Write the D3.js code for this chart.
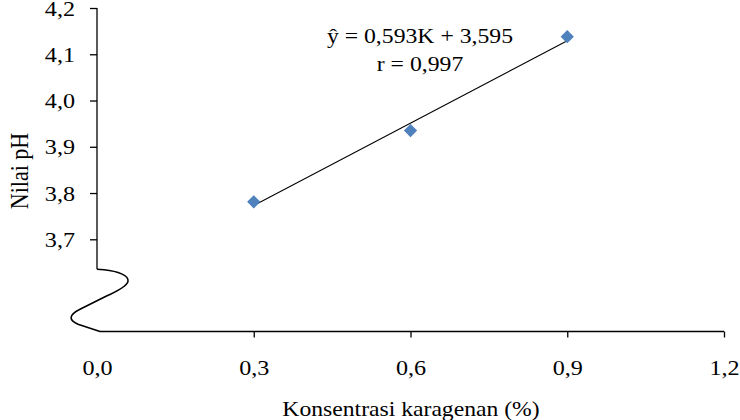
<!DOCTYPE html>
<html>
<head>
<meta charset="utf-8">
<script src="https://cdn.jsdelivr.net/npm/d3@7"></script>
<style>
  html, body { margin: 0; padding: 0; background: #fff; }
  svg text { font-family: "Liberation Serif", "Times New Roman", serif; fill: #000; }
</style>
</head>
<body>
<svg id="chart" width="740" height="420"></svg>
<script>
// ---- data ----
const xTicks = [0, 0.3, 0.6, 0.9, 1.2];
const xTickLabels = ["0,0", "0,3", "0,6", "0,9", "1,2"];
const yTicks = [3.7, 3.8, 3.9, 4.0, 4.1, 4.2];
const yTickLabels = ["3,7", "3,8", "3,9", "4,0", "4,1", "4,2"];
const konsentrasi = [0.3, 0.6, 0.9];
const nilaiPH = [3.781, 3.935, 4.138];
const trendK = [0.3, 0.9];
const trendPH = [3.773, 4.129];
const equationLines = ["ŷ = 0,593K + 3,595", "r = 0,997"];
const xTitle = "Konsentrasi karagenan (%)";
const yTitle = "Nilai pH";

// ---- layout ----
const svg = d3.select("#chart");
const axisY0 = 331.5;      // x-axis position
const breakTop = 269.3;    // where the y-axis line ends above the break

const x = d3.scaleLinear().domain([0, 1.2]).range([97, 724]);
const y = d3.scaleLinear().domain([3.7, 4.2]).range([239.3, 8]);

// horizontally widen text (reference glyphs are wider than tall)
function stretch(sel, sx) {
  sel.each(function () {
    const t = d3.select(this);
    const x0 = +t.attr("x") || 0;
    t.attr("x", 0).attr("transform", `translate(${x0},0) scale(${sx},1)`);
  });
}

// y axis
const yAxisG = svg.append("g")
  .attr("transform", `translate(${x(0)},0)`)
  .call(d3.axisLeft(y).tickValues(yTicks)
    .tickFormat((d, i) => yTickLabels[i])
    .tickSize(7).tickPadding(15));
yAxisG.select(".domain").remove();
yAxisG.selectAll(".tick line").attr("stroke", "#000").attr("stroke-width", 1.3);
yAxisG.selectAll(".tick text").style("font-size", "21px").attr("dy", "0.34em")
  .call(stretch, 1.15);

svg.append("line")
  .attr("x1", x(0)).attr("x2", x(0))
  .attr("y1", y(4.2)).attr("y2", breakTop)
  .attr("stroke", "#000").attr("stroke-width", 1.3);

// axis break squiggle
const bx = x(0);
svg.append("path")
  .attr("d", `M${bx},${breakTop} L${bx + 7},${breakTop + 0.5}
     C${bx + 21},${breakTop + 2} ${bx + 32},${breakTop + 6} ${bx + 31},${breakTop + 12}
     C${bx + 30},${breakTop + 17} ${bx + 20},${breakTop + 22} ${bx + 9},${breakTop + 27}
     L${bx - 17},${breakTop + 40}
     C${bx - 29},${breakTop + 46} ${bx - 28},${breakTop + 51} ${bx - 19},${breakTop + 55}
     L${bx + 3},${axisY0}`)
  .attr("fill", "none").attr("stroke", "#000").attr("stroke-width", 1.6);

// x axis
const xAxisG = svg.append("g")
  .attr("transform", `translate(0,${axisY0})`)
  .call(d3.axisBottom(x).tickValues(xTicks)
    .tickFormat((d, i) => xTickLabels[i])
    .tickSize(6).tickPadding(23));
xAxisG.select(".domain").remove();
xAxisG.selectAll(".tick line").attr("stroke", "#000").attr("stroke-width", 1.3)
  .filter(d => d === 0).remove();
xAxisG.selectAll(".tick text").style("font-size", "21px").call(stretch, 1.15);

svg.append("line")
  .attr("x1", x(0) + 3).attr("x2", x(1.2))
  .attr("y1", axisY0).attr("y2", axisY0)
  .attr("stroke", "#000").attr("stroke-width", 1.3);

// trend line
svg.append("line")
  .attr("x1", x(trendK[0])).attr("y1", y(trendPH[0]))
  .attr("x2", x(trendK[1])).attr("y2", y(trendPH[1]))
  .attr("stroke", "#000").attr("stroke-width", 1.1);

// markers
const diamond = d3.symbol().type(d3.symbolSquare).size(88);
svg.append("g").selectAll("path")
  .data(konsentrasi.map((k, i) => ({ k, ph: nilaiPH[i] })))
  .join("path")
  .attr("d", diamond)
  .attr("transform", d => `translate(${x(d.k)},${y(d.ph)}) rotate(45)`)
  .attr("fill", "#4F81BD");

// equation annotation
svg.append("g").selectAll("text")
  .data(equationLines)
  .join("text")
  .attr("x", 420)
  .attr("y", (d, i) => 43 + i * 28)
  .attr("text-anchor", "middle")
  .style("font-size", "21px")
  .text(d => d)
  .call(stretch, 1.13);

// axis titles
svg.append("text")
  .attr("x", 411).attr("y", 416)
  .attr("text-anchor", "middle")
  .style("font-size", "21.5px")
  .text(xTitle)
  .call(stretch, 1.1);

svg.append("text")
  .attr("transform", "translate(28,171) rotate(-90) scale(1,1.15)")
  .attr("text-anchor", "middle")
  .style("font-size", "22px")
  .text(yTitle);
</script>
</body>
</html>
